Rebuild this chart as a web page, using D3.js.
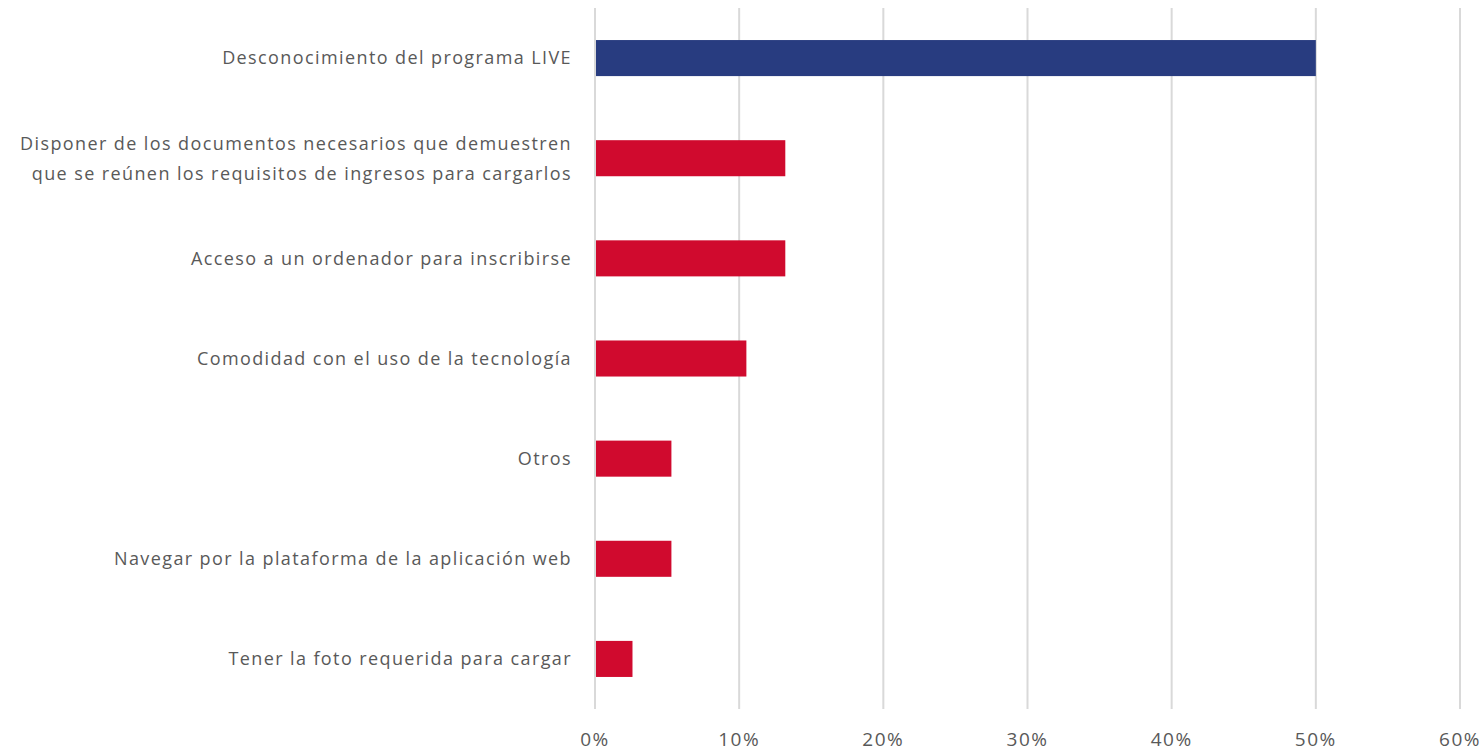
<!DOCTYPE html>
<html>
<head>
<meta charset="utf-8">
<script src="https://cdn.jsdelivr.net/npm/d3@7"></script>
<style>
  body { margin: 0; background: #fff; }
  text { font-family: "Open Sans", sans-serif; fill: #595959; }
</style>
</head>
<body>
<div id="chart"></div>
<script>
var categories = [
    ["Desconocimiento del programa LIVE"],
    ["Disponer de los documentos necesarios que demuestren", "que se reúnen los requisitos de ingresos para cargarlos"],
    ["Acceso a un ordenador para inscribirse"],
    ["Comodidad con el uso de la tecnología"],
    ["Otros"],
    ["Navegar por la plataforma de la aplicación web"],
    ["Tener la foto requerida para cargar"]
];
var values = [0.50, 0.132, 0.132, 0.105, 0.053, 0.053, 0.026];
var barColors = ["#283c80", "#d00a2e", "#d00a2e", "#d00a2e", "#d00a2e", "#d00a2e", "#d00a2e"];
var ticks = [0, 0.1, 0.2, 0.3, 0.4, 0.5, 0.6];

const W = 1483, H = 751;
const margin = {top: 8, right: 23, bottom: 42, left: 595};
const width = W - margin.left - margin.right;
const height = H - margin.top - margin.bottom;

var svg = d3.select('#chart')
    .append('svg')
    .attr('width', W)
    .attr('height', H)
  .append('g')
    .attr('transform', 'translate(' + margin.left + ',' + margin.top + ')');

var x = d3.scaleLinear().domain([0, 0.6]).range([0, width]);
var y = d3.scaleBand().domain(d3.range(categories.length)).range([0, height]).paddingInner(0.64).paddingOuter(0.32);

// gridlines
svg.selectAll('.grid')
    .data(ticks)
    .enter()
    .append('line')
    .attr('x1', d => x(d))
    .attr('x2', d => x(d))
    .attr('y1', 0)
    .attr('y2', height)
    .attr('stroke', '#d9d9d9')
    .attr('stroke-width', 2);

// tick labels
svg.selectAll('.tick-label')
    .data(ticks)
    .enter()
    .append('text')
    .attr('x', d => x(d))
    .attr('y', height + 37)
    .attr('text-anchor', 'middle')
    .attr('font-size', '19px')
    .attr('letter-spacing', '1.5px')
    .text(d => d3.format('.0%')(d));

// bars
svg.selectAll('rect')
    .data(values)
    .enter()
    .append('rect')
    .attr('x', x(0) + 1)
    .attr('y', (d, i) => y(i))
    .attr('width', d => x(d) - x(0) - 1)
    .attr('height', y.bandwidth())
    .attr('fill', (d, i) => barColors[i]);

// category labels
var labels = svg.selectAll('.cat')
    .data(categories)
    .enter()
    .append('text')
    .attr('text-anchor', 'end')
    .attr('font-size', '18px')
    .attr('letter-spacing', '1.4px')
    .attr('transform', (d, i) => 'translate(-23,' + (y(i) + y.bandwidth() / 2) + ')');

labels.selectAll('tspan')
    .data(d => d.map((t, k) => [t, k, d.length]))
    .enter()
    .append('tspan')
    .attr('x', 0)
    .attr('y', d => (d[1] - (d[2] - 1) / 2) * 30)
    .attr('dy', '0.35em')
    .text(d => d[0]);
</script>
</body>
</html>
